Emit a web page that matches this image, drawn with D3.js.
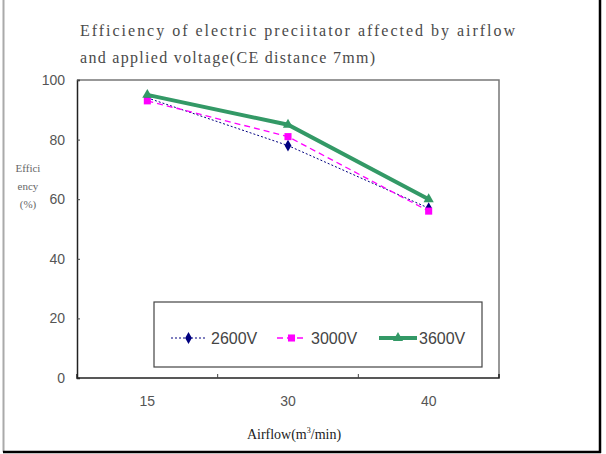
<!DOCTYPE html>
<html>
<head>
<meta charset="utf-8">
<script src="https://cdn.jsdelivr.net/npm/d3@7"></script>
<style>
  body { margin: 0; background: #fff; }
  svg { display: block; }
</style>
</head>
<body>
<svg id="chart" width="606" height="454"></svg>
<script>
const airflow = ["15", "30", "40"];
const v2600 = [94, 78, 57];
const v3000 = [93, 81, 56];
const v3600 = [95, 85, 60];
const yTicks = [0, 20, 40, 60, 80, 100];

const series = [
  { name: "2600V", values: v2600, color: "#000080", width: 1, dash: "2,2", symbol: d3.symbolDiamond, size: 40 },
  { name: "3000V", values: v3000, color: "#ff00ff", width: 1.3, dash: "6,4", symbol: d3.symbolSquare, size: 50 },
  { name: "3600V", values: v3600, color: "#339966", width: 4, dash: null, symbol: d3.symbolTriangle, size: 45 }
];

const svg = d3.select("#chart");
const plotLeft = 77, plotRight = 499, plotTop = 80, plotBottom = 378;

// outer frame
svg.append("line").attr("x1", 3.5).attr("x2", 3.5).attr("y1", 0).attr("y2", 452)
  .attr("stroke", "#aaa").attr("stroke-width", 2);
svg.append("line").attr("x1", 600).attr("x2", 600).attr("y1", 0).attr("y2", 453)
  .attr("stroke", "#000").attr("stroke-width", 2.5);
svg.append("line").attr("x1", 3).attr("x2", 601).attr("y1", 452).attr("y2", 452)
  .attr("stroke", "#000").attr("stroke-width", 2.5);

// title
const title = svg.append("g")
  .attr("font-family", "'Liberation Serif', serif")
  .attr("font-size", 16)
  .attr("fill", "#4a4a4a");
title.append("text").attr("x", 80).attr("y", 36)
  .attr("textLength", 435).attr("lengthAdjust", "spacing")
  .text("Efficiency of electric preciitator affected by airflow");
title.append("text").attr("x", 80).attr("y", 63)
  .attr("textLength", 295).attr("lengthAdjust", "spacing")
  .text("and applied voltage(CE distance 7mm)");

const x = d3.scalePoint().domain(airflow).range([plotLeft, plotRight]).padding(0.5);
const xBand = d3.scaleBand().domain(airflow).range([plotLeft, plotRight]);
const y = d3.scaleLinear().domain([0, 100]).range([plotBottom, plotTop]);

// plot border (top/right gray)
svg.append("path")
  .attr("d", `M${plotLeft},${plotTop}H${plotRight}V${plotBottom}`)
  .attr("fill", "none").attr("stroke", "#777").attr("stroke-width", 1.5);

// y axis
const yAxis = svg.append("g").attr("transform", `translate(${plotLeft},0)`)
  .call(d3.axisRight(y).tickValues(yTicks).tickSize(3).tickFormat(""));
yAxis.select(".domain").attr("stroke", "#222").attr("stroke-width", 1.5);
yAxis.selectAll(".tick line").attr("stroke", "#444");

svg.append("g").selectAll("text").data(yTicks).join("text")
  .attr("x", 65).attr("y", d => y(d) + 5)
  .attr("text-anchor", "end")
  .attr("font-family", "'Liberation Sans', Arial, sans-serif")
  .attr("font-size", 14).attr("fill", "#555")
  .text(d => d);

// x axis
const xAxis = svg.append("g").attr("transform", `translate(0,${plotBottom})`)
  .call(d3.axisTop(xBand).tickValues(airflow.slice(1)).tickSize(4).tickFormat("").offset(0));
xAxis.selectAll(".tick").attr("transform", d => `translate(${xBand(d)},0)`);
xAxis.select(".domain").attr("stroke", "#222").attr("stroke-width", 1.5);
xAxis.selectAll(".tick line").attr("stroke", "#444");

svg.append("g").selectAll("text").data(airflow).join("text")
  .attr("x", d => x(d)).attr("y", 406)
  .attr("text-anchor", "middle")
  .attr("font-family", "'Liberation Sans', Arial, sans-serif")
  .attr("font-size", 14).attr("fill", "#555")
  .text(d => d);

// axis titles
const xt = svg.append("text").attr("x", 294).attr("y", 439)
  .attr("text-anchor", "middle")
  .attr("font-family", "'Liberation Serif', serif")
  .attr("font-size", 14).attr("fill", "#222");
xt.append("tspan").text("Airflow(m");
xt.append("tspan").attr("font-size", 8).attr("dy", -6).text("3");
xt.append("tspan").attr("dy", 6).text("/min)");

svg.append("g").selectAll("text").data(["Effici", "ency", "(%)"]).join("text")
  .attr("x", 28).attr("y", (d, i) => 172 + i * 18)
  .attr("text-anchor", "middle")
  .attr("font-family", "'Liberation Serif', serif")
  .attr("font-size", 11).attr("fill", "#666")
  .text(d => d);

// series
const line = d3.line().x((d, i) => x(airflow[i])).y(d => y(d));
series.forEach(s => {
  svg.append("path").datum(s.values)
    .attr("d", line)
    .attr("fill", "none")
    .attr("stroke", s.color)
    .attr("stroke-width", s.width)
    .attr("stroke-dasharray", s.dash);
  svg.append("g").selectAll("path").data(s.values).join("path")
    .attr("transform", (d, i) => `translate(${x(airflow[i])},${y(d)})`)
    .attr("d", d3.symbol(s.symbol, s.size))
    .attr("fill", s.color);
});

// legend
svg.append("rect").attr("x", 154).attr("y", 302).attr("width", 328).attr("height", 65)
  .attr("fill", "#fff").attr("stroke", "#444").attr("stroke-width", 1.2);
const legendX = [171, 277, 379];
const legendLen = [35, 29, 38];
series.forEach((s, i) => {
  const g = svg.append("g").attr("transform", `translate(${legendX[i]},338)`);
  g.append("line").attr("x1", 0).attr("x2", legendLen[i])
    .attr("stroke", s.color).attr("stroke-width", s.width)
    .attr("stroke-dasharray", s.dash);
  g.append("path").attr("transform", `translate(${legendLen[i] / 2},0)`)
    .attr("d", d3.symbol(s.symbol, s.size)).attr("fill", s.color);
  g.append("text").attr("x", legendLen[i] + (i === 2 ? 2 : 5)).attr("y", 6)
    .attr("font-family", "'Liberation Sans', Arial, sans-serif")
    .attr("font-size", 16).attr("fill", "#444")
    .text(s.name);
});
</script>
</body>
</html>
